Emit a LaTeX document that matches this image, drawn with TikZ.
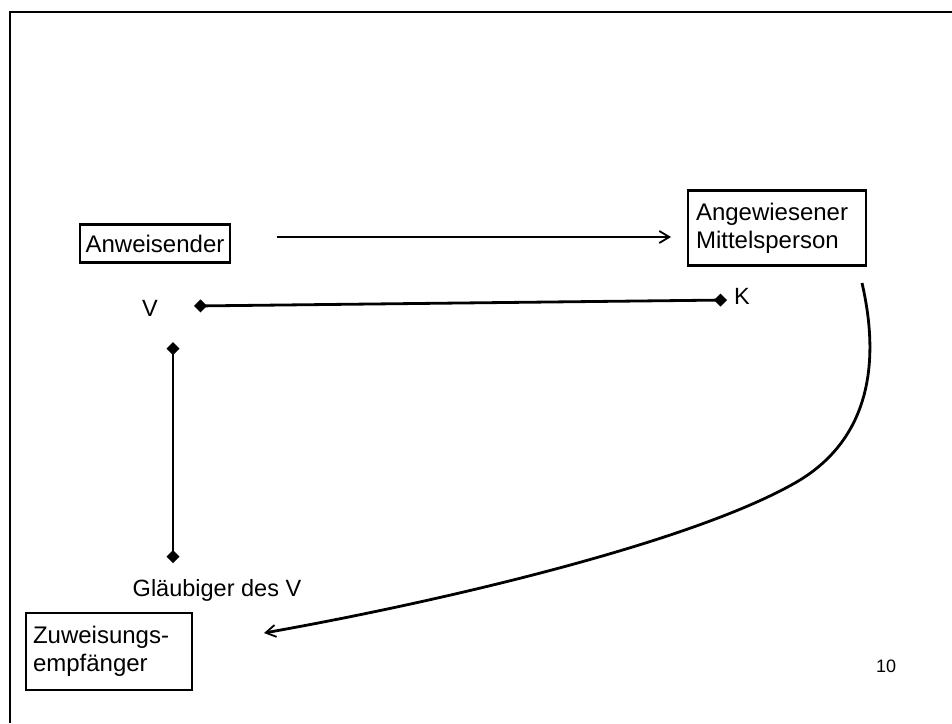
\documentclass[tikz,border=0pt]{standalone}
\usepackage{fontspec}
\setmainfont{Liberation Sans}
\usetikzlibrary{arrows.meta}
\begin{document}
\begin{tikzpicture}[x=1pt,y=-1pt,
  box/.style={draw,line width=2.2pt,inner sep=0pt,align=left,font=\fontsize{24}{28}\selectfont},
  lbl/.style={inner sep=0pt,font=\fontsize{23.5}{27}\selectfont},
  conn/.style={line width=2.8pt},
  arr/.style={conn,-{Straight Barb[length=10pt,width=12pt,line width=1.8pt]}},
  dia/.style={conn,{Diamond[length=13pt,width=13pt]}-{Diamond[length=13pt,width=13pt]}}]
\useasboundingbox (0,0) rectangle (952,723);
% frame
\coordinate (f1) at (10,723);
\coordinate (f2) at (10,12);
\coordinate (f3) at (952,12);
\draw[line width=2.8pt] (f1) -- (f2) -- (f3);
% boxes
\node[box,minimum width=150,minimum height=38] (anw) at (155,243.5) {Anweisender};
\node[box,minimum width=178,minimum height=75,text width=162] (ang) at (777,228) {Angewiesener\\Mittelsperson};
\node[box,minimum width=166,minimum height=77,text width=152] (zuw) at (109,651.5) {Zuweisungs-\\empfänger};
% labels
\node[lbl] (v) at (150,308) {V};
\node[lbl] (k) at (742,296) {K};
\node[lbl] (gl) at (217,590) {Gläubiger des V};
\node[inner sep=0pt,font=\fontsize{18}{20}\selectfont] (ten) at (886,666) {10};
% connectors
\coordinate (a1) at (277,237);
\coordinate (a2) at (671,237);
\draw[arr] (a1) -- (a2);
\coordinate (vk1) at (194,306);
\coordinate (vk2) at (727,300);
\draw[dia] (vk1) -- (vk2);
\coordinate (vv1) at (173,342);
\coordinate (vv2) at (173,563);
\draw[dia] (vv1) -- (vv2);
\coordinate (c0) at (862,283);
\coordinate (c1) at (800,480);
\coordinate (c2) at (264,633);
\draw[arr] (c0) .. controls (882,370) and (865,440) .. (c1)
  .. controls (700,540) and (450,600) .. (c2);
\end{tikzpicture}
\end{document}
